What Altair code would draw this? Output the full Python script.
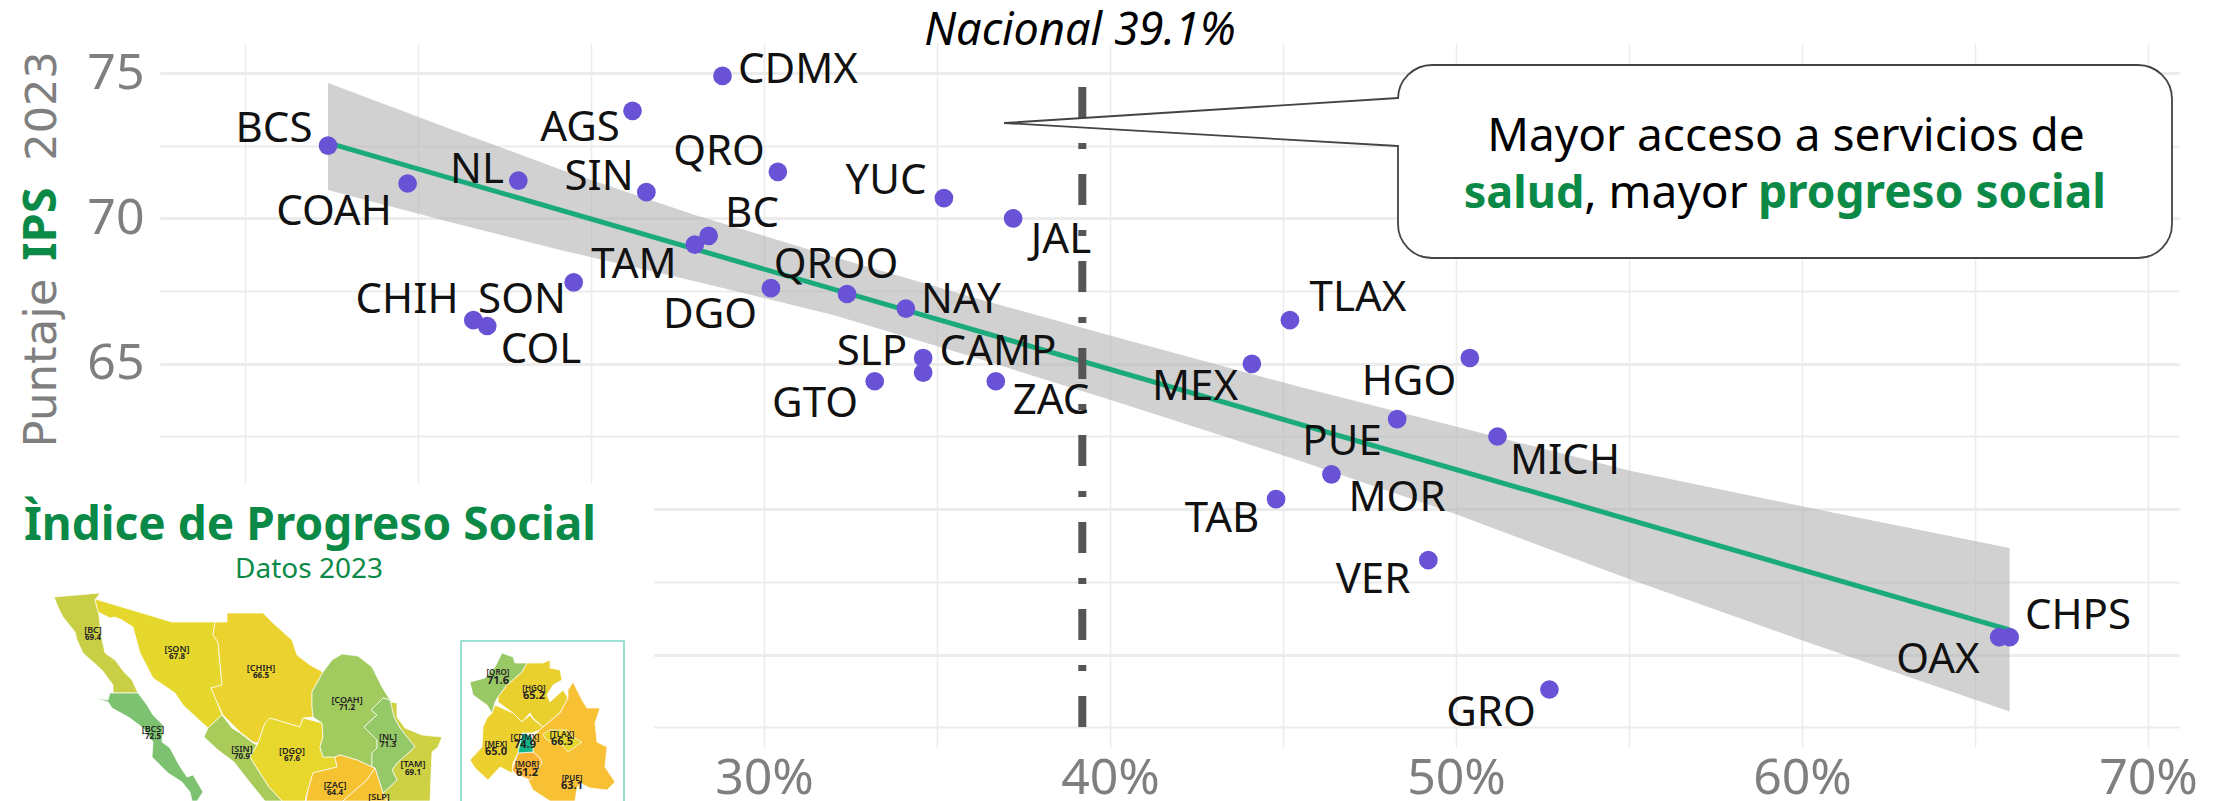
import altair as alt
import pandas as pd

# ---- scatter values -------------------------------------------------------
states = ["BCS","COAH","NL","SIN","AGS","CDMX","QRO","YUC","JAL","BC","TAM","SON","CHIH","COL","DGO","QROO","NAY",
          "SLP","CAMP","GTO","ZAC","TLAX","MEX","HGO","PUE","MICH","MOR","TAB","VER","GRO","OAX","CHPS"]
acceso = [17.4,19.7,22.9,26.6,26.2,28.8,30.4,35.2,37.2,28.4,28.0,24.5,21.6,22.0,30.2,32.4,34.1,
          34.6,34.6,33.2,36.7,45.2,44.1,50.4,48.3,51.2,46.4,44.8,49.2,52.7,65.7,66.0]
ips = [72.5,71.2,71.3,70.9,73.7,74.9,71.6,70.7,70.0,69.4,69.1,67.8,66.5,66.3,67.6,67.4,66.9,
       65.2,64.7,64.4,64.4,66.5,65.0,65.2,63.1,62.5,61.2,60.35,58.25,53.8,55.6,55.6]
# label centres in picture pixels
label_px = [274,334,477,599,580,798,719,886,1061,752,634,522,407,541,710,836,961,
            872,998,815,1051,1358,1195,1409,1342,1565,1397,1222,1373,1491,1938,2078]
label_py = [129,212,170,177,128,70,152,181,240,214,265,300,300,350,315,265,300,
            352,352,404,401,298,387,382,442,461,498,519,580,713,660,616]

fit_x = [17.4, 66.0]
fit_y = [72.6, 55.85]
band_x = [17.4,21,24.2,28,32,36,40,45.5,50,55,60.2,66]
band_hi = [74.66,73.05,71.65,70.12,68.68,67.3,65.97,64.2,62.84,61.33,60.05,58.67]
band_lo = [70.98,69.85,68.89,67.84,66.68,65.25,63.76,61.66,59.83,57.6,55.41,53.04]
nacional = 39.2

x_ticks = [15,20,25,30,35,40,45,50,55,60,65,70]
y_ticks = [52.5,55,57.5,60,62.5,65,67.5,70,72.5,75]

# ---- map outlines, in picture pixels --------------------------------------
map_shapes = {
 "BC": ("#C9CF45",[(54,597),(100,593),(95,600),(99,615),(101,635),(105,653),(115,660),(124,672),(132,680),(138,693),(113,693),(113,685),(102,670),(83,653),(77,640),(75,632),(63,617),(58,607)]),
 "BCS": ("#7DC270",[(113,693),(138,693),(147,705),(153,715),(163,725),(162,742),(170,748),(179,765),(187,777),(193,775),(203,792),(197,801),(192,801),(190,792),(182,782),(168,773),(152,757),(153,742),(143,728),(130,718),(112,708),(108,702),(95,698),(108,700),(110,693)]),
 "SON": ("#E5D72B",[(95,599),(172,622),(215,622),(213,635),(218,642),(220,665),(222,685),(211,688),(217,702),(222,715),(208,728),(197,718),(183,705),(175,693),(153,678),(140,653),(133,627),(122,620),(115,617),(110,618),(98,612)]),
 "CHIH": ("#ECD22E",[(215,622),(227,622),(227,613),(263,613),(273,623),(292,640),(297,655),(310,665),(323,672),(312,692),(312,707),(313,717),(303,718),(300,727),(283,722),(270,718),(265,723),(258,743),(253,742),(240,732),(223,715),(217,702),(211,688),(222,685),(218,642),(213,635)]),
 "SIN": ("#A9CB5A",[(222,715),(232,728),(240,733),(253,743),(257,745),(250,757),(258,770),(269,787),(282,801),(265,801),(248,780),(234,762),(218,750),(204,737),(208,728)]),
 "DGO": ("#E8D72D",[(258,743),(265,723),(270,718),(283,722),(300,727),(303,718),(322,723),(323,737),(320,747),(323,757),(335,757),(337,767),(313,773),(307,793),(305,801),(282,801),(269,787),(250,757),(257,745)]),
 "COAH": ("#A2CB5F",[(323,672),(332,660),(342,654),(358,656),(372,667),(382,687),(390,700),(383,698),(371,710),(377,715),(364,727),(377,740),(377,748),(372,753),(372,767),(357,760),(340,755),(335,757),(323,757),(320,747),(323,737),(322,723),(313,717),(312,707),(312,692)]),
 "TAM": ("#CDD143",[(390,702),(397,703),(397,717),(405,728),(422,735),(442,737),(438,747),(432,752),(430,801),(387,801),(383,793),(397,780),(392,770),(397,763),(415,747),(400,728),(394,717)]),
 "NL": ("#95C866",[(383,698),(390,700),(394,717),(400,728),(415,747),(397,763),(392,770),(397,780),(383,793),(375,768),(372,767),(372,753),(377,748),(377,740),(364,727),(377,715),(371,710)]),
 "ZAC": ("#F5C232",[(335,757),(340,755),(357,760),(372,767),(375,768),(367,780),(353,792),(343,801),(306,801),(308,790),(313,773),(337,767)]),
 "SLP": ("#F5C232",[(375,768),(383,793),(387,801),(343,801),(353,792),(367,780)]),
 "QRO": ("#98C965",[(502,653),(513,657),(515,663),(527,663),(522,672),(507,685),(498,697),(495,702),(492,713),(487,705),(473,695),(470,682),(485,678),(495,667)]),
 "HGO": ("#EAD02F",[(527,663),(543,663),(550,660),(550,668),(560,670),(562,680),(553,685),(547,695),(550,702),(563,690),(568,698),(560,713),(543,727),(533,718),(530,713),(522,722),(513,713),(498,702),(498,697),(507,685),(522,672)]),
 "MEX": ("#ECD12E",[(492,713),(495,705),(513,713),(522,722),(530,715),(533,719),(543,727),(540,730),(532,733),(522,733),(518,753),(513,763),(512,773),(500,767),(488,780),(475,768),(470,760),(482,747),(483,727),(487,718)]),
 "PUE": ("#F7C035",[(573,682),(578,692),(582,700),(587,708),(600,708),(595,723),(597,742),(607,747),(605,767),(615,782),(607,790),(590,788),(580,783),(577,788),(575,801),(550,801),(533,790),(528,780),(542,763),(540,758),(533,752),(533,745),(532,737),(540,730),(543,727),(560,713),(568,698),(568,690)]),
 "TLAX": ("#E6D52D",[(543,734),(550,730),(567,730),(573,737),(582,742),(568,752),(562,745),(550,742),(545,738)]),
 "MOR": ("#F9B233",[(518,753),(533,752),(540,758),(542,763),(530,780),(523,777),(515,773),(512,770),(515,762)]),
 "CDMX": ("#10B48A",[(522,734),(525,733),(532,737),(533,745),(533,752),(518,753)]),
}
map_names = [("[BC]",93,630),("[SON]",177,649),("[CHIH]",261,668),("[BCS]",153,729),("[SIN]",242,749),("[COAH]",347,700),
             ("[DGO]",292,751),("[NL]",388,737),("[TAM]",413,764),("[ZAC]",335,785),("[SLP]",379,797)]
map_vals = [("69.4",93,638),("67.8",177,657),("66.5",261,676),("72.5",153,737),("70.9",242,757),("71.2",347,708),
            ("67.6",292,759),("71.3",388,745),("69.1",413,773),("64.4",335,793)]
inset_names = [("[QRO]",498,673),("[HGO]",534,689),("[CDMX]",525,738),("[TLAX]",562,735),("[MEX]",496,745),("[MOR]",527,765),("[PUE]",572,779)]
inset_vals = [("71.6",498,681),("65.2",534,696),("74.9",525,745),("66.5",562,742),("65.0",496,752),("61.2",527,773),("63.1",572,786)]

# ---- picture layout --------------------------------------------------------
PL, PR, PT, PB = 160, 2179, 43, 747            # plot area in picture pixels
def X(px): return 30 + (px - 764) / 34.6       # picture px -> axis value
def Y(py): return 75 - (py - 73) / 29.08
XS = alt.Scale(domain=[X(PL), X(PR)], nice=False, zero=False)
YS = alt.Scale(domain=[Y(PB), Y(PT)], nice=False, zero=False)
ex = alt.X("x:Q", scale=XS, title=None)
ey = alt.Y("y:Q", scale=YS, title=None)
GREEN = "#0B8A47"
FONT = "Noto Sans"


def text_layer(rows, **mk):
    d = pd.DataFrame([{"t": t, "x": X(a), "y": Y(b)} for t, a, b in rows])
    return alt.Chart(d).mark_text(font=mk.pop("font", FONT), **mk).encode(x=ex, y=ey, text="t:N")


base_axes = alt.Chart(pd.DataFrame({"x": [30], "y": [65]})).mark_point(opacity=0).encode(
    x=alt.X("x:Q", scale=XS, title=None, axis=alt.Axis(
        values=x_ticks, grid=True, gridColor="#ececec", gridWidth=1.6, domain=False, ticks=False,
        labelExpr="datum.value>=30 && datum.value%10==0 ? datum.value+'%' : ''",
        labelFont=FONT, labelFontSize=50, labelColor="#7f7f7f", labelPadding=6, labelOverlap=False, labelFlush=False)),
    y=alt.Y("y:Q", scale=YS, title=None, axis=alt.Axis(
        values=y_ticks, grid=True, gridColor="#ececec", gridWidth={"expr": "datum.value%5==0 ? 3 : 2"},
        domain=False, ticks=False,
        labelExpr="datum.value>=65 && datum.value%5==0 ? datum.value : ''",
        labelFont=FONT, labelFontSize=50, labelColor="#7f7f7f", labelPadding=16, labelOverlap=False, labelFlush=False)),
)

band = alt.Chart(pd.DataFrame({"x": band_x, "y": band_hi, "y2": band_lo})).mark_area(color="#b3b3b3", opacity=0.6).encode(x=ex, y=ey, y2="y2:Q")
fit = alt.Chart(pd.DataFrame({"x": fit_x, "y": fit_y})).mark_line(color="#1BAA7C", strokeWidth=5).encode(x=ex, y=ey)
nat = alt.Chart(pd.DataFrame({"x": [nacional], "y": [Y(87)], "y2": [Y(737)]})).mark_rule(
    color="#555555", strokeWidth=8, strokeDash=[31, 25, 6, 25]).encode(x=ex, y=ey, y2="y2:Q")
pts = alt.Chart(pd.DataFrame({"x": acceso, "y": ips})).mark_circle(color="#6A52D6", size=350, opacity=1).encode(x=ex, y=ey)
labels = text_layer(list(zip(states, label_px, label_py)), fontSize=42, color="#111111", baseline="middle", align="center")

panel = alt.Chart(pd.DataFrame({"x": [X(0)], "x2": [X(654)], "y": [Y(483)], "y2": [Y(801)]})).mark_rect(color="white").encode(x=ex, x2="x2:Q", y=ey, y2="y2:Q")
box = alt.Chart(pd.DataFrame({"x": [X(461)], "x2": [X(624)], "y": [Y(641)], "y2": [Y(830)]})).mark_rect(fill="white", stroke="#7FD8C5", strokeWidth=1.6).encode(x=ex, x2="x2:Q", y=ey, y2="y2:Q")

rows = []
for name, (col, pts_px) in map_shapes.items():
    for i, (a, b) in enumerate(pts_px + pts_px[:1]):
        rows.append({"s": name, "c": col, "i": i, "x": X(a), "y": Y(b)})
shapes = alt.Chart(pd.DataFrame(rows)).mark_line(stroke="white", strokeWidth=0.7, interpolate="linear").encode(
    x=ex, y=ey, order="i:Q", detail="s:N", fill=alt.Fill("c:N", scale=None))

# callout
call = alt.Chart(pd.DataFrame({"x": [X(1398)], "x2": [X(2172)], "y": [Y(65)], "y2": [Y(258)]})).mark_rect(
    fill="white", stroke="#444444", strokeWidth=1.8, cornerRadius=34).encode(x=ex, x2="x2:Q", y=ey, y2="y2:Q")
tip = alt.Chart(pd.DataFrame({"x": [X(1398), X(1004), X(1398)], "y": [Y(98), Y(123), Y(146)], "i": [0, 1, 2]})).mark_line(
    fill="white", stroke="#444444", strokeWidth=1.8).encode(x=ex, y=ey, order="i:Q")
tip_gap = alt.Chart(pd.DataFrame({"x": [X(1398)], "y": [Y(99)], "y2": [Y(145)]})).mark_rule(color="white", strokeWidth=4).encode(x=ex, y=ey, y2="y2:Q")

layers = [
    base_axes, band, fit, nat, pts, labels, panel, box, shapes,
    text_layer(map_names, fontSize=9, color="#222222", baseline="middle", fontWeight=600),
    text_layer(map_vals, fontSize=8, color="#222222", baseline="middle", fontWeight=700),
    text_layer(inset_names, fontSize=8, color="#222222", baseline="middle", fontWeight=600),
    text_layer(inset_vals, fontSize=11, color="#222222", baseline="middle", fontWeight=700),
    call, tip, tip_gap,
    text_layer([("Nacional 39.1%", 1080, 31)], fontSize=45, fontStyle="italic", color="#000000", baseline="middle"),
    text_layer([("Mayor acceso a servicios de", 1786, 137)], fontSize=46, color="#000000", baseline="middle"),
    text_layer([("salud", 1524, 194)], fontSize=45, fontWeight=700, color=GREEN, baseline="middle"),
    text_layer([(", mayor", 1666, 194)], fontSize=46, color="#000000", baseline="middle"),
    text_layer([("progreso social", 1932, 194)], fontSize=46, fontWeight=700, color=GREEN, baseline="middle"),
    text_layer([("Ìndice de Progreso Social", 310, 540)], fontSize=46, fontWeight=700, color=GREEN, baseline="alphabetic"),
    text_layer([("Datos 2023", 309, 570)], fontSize=28, color=GREEN, baseline="middle"),
    text_layer([("Puntaje", 56, 363)], fontSize=45, angle=270, color="#7f7f7f", baseline="alphabetic", font="DejaVu Sans"),
    text_layer([("IPS", 56, 224)], fontSize=47, angle=270, fontWeight=700, color=GREEN, baseline="alphabetic"),
    text_layer([("2023", 56, 106)], fontSize=43, angle=270, color="#7f7f7f", baseline="alphabetic", font="DejaVu Sans"),
]

chart = alt.layer(*layers).properties(
    width=PR - PL, height=PB - PT, autosize="none",
    padding={"left": PL - 8, "top": PT - 8, "right": 2222 - PR - 8, "bottom": 801 - PB},
    background="white",
).configure_view(stroke=None)

chart.save("out.html", embed_options={"renderer": "svg", "actions": False})
